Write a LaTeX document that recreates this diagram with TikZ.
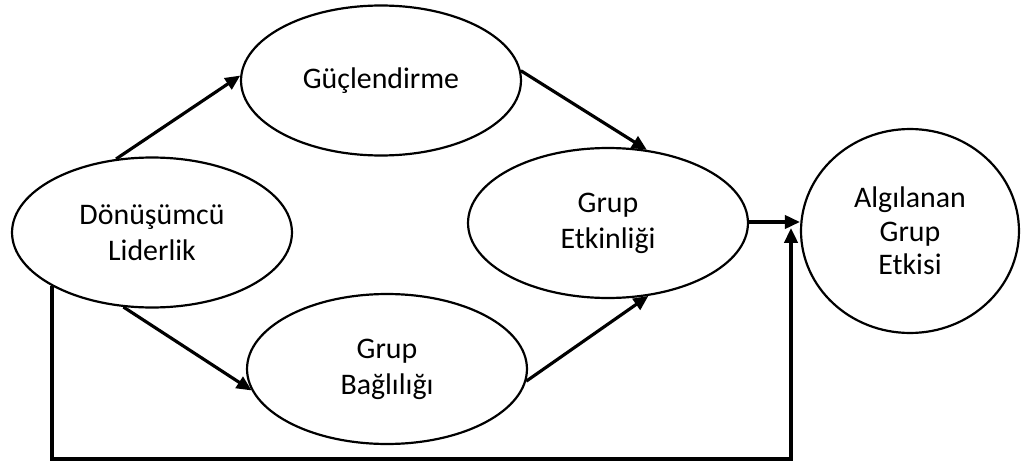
\documentclass[tikz,border=0pt]{standalone}
\usepackage{fontspec}
\setmainfont{Carlito}
\usetikzlibrary{arrows.meta,shapes.geometric}
\begin{document}
\begin{tikzpicture}[x=0.02cm,y=-0.02cm,
  box/.style={ellipse,draw,line width=1.25pt,minimum width=5.6cm,minimum height=3cm,inner sep=0pt,align=center,font=\fontsize{17}{20.5}\selectfont},
  arr/.style={line width=1.8pt,-{Triangle[length=8.5pt,width=7.5pt]}}]
\useasboundingbox (0,0) rectangle (1025,463);
\node[box] (dl) at (152,232.5) {Dönüşümcü\\Liderlik};
\node[box] (gu) at (381,80.5) {Güçlendirme};
\node[box] (et) at (608,223) {Grup\\Etkinliği};
\node[box] (bl) at (387,369) {Grup\\Bağlılığı};
\node[box,minimum width=4.36cm,minimum height=4.08cm,font=\fontsize{17}{19}\selectfont] (al) at (910,231) {Algılanan\\Grup\\Etkisi};
\coordinate (c) at (791,228);
\coordinate (turn) at (791,459);
\draw[arr] (dl.116) -- (gu.178);
\draw[arr] (gu.4) -- (et.62);
\draw[arr] (dl.-111) -- (bl.-171);
\draw[arr] (bl.-5) -- (et.-61);
\draw[arr] ([yshift=0.02cm]et.east) -- ([yshift=0.02cm]et.east -| al.west);
\draw[arr,line width=2.3pt] (dl.south west) |- (turn) -- (c);
\end{tikzpicture}
\end{document}
